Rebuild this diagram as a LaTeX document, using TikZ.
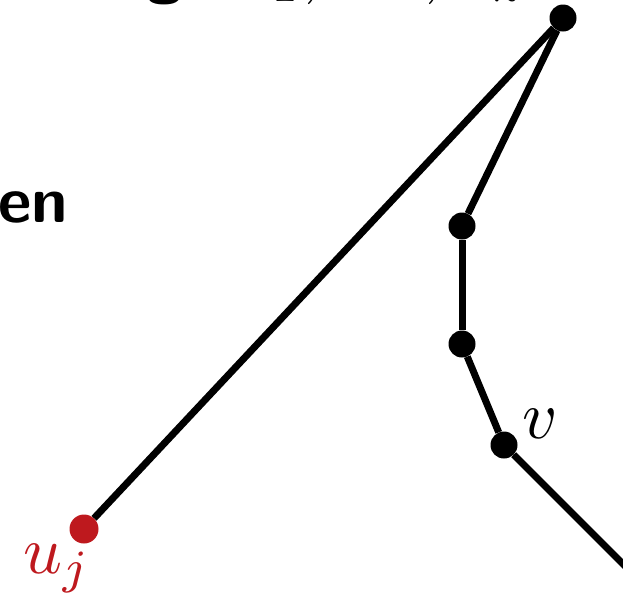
\documentclass[tikz,border=0pt]{standalone}
\usepackage{graphicx}
\usepackage{xcolor}
\definecolor{dotred}{RGB}{190,25,30}
\newcommand{\hugemath}[1]{\scalebox{6.8}{$#1$}}
\tikzset{
  vtx/.style={circle,fill=black,inner sep=0pt,minimum size=27pt},
  redvtx/.style={circle,fill=dotred,inner sep=0pt,minimum size=29pt},
  edge/.style={line width=7pt},
  lbl/.style={inner sep=0pt},
  bigsf/.style={inner sep=0pt,font=\fontsize{65}{78}\selectfont\sffamily\bfseries},
}
\begin{document}
\begin{tikzpicture}[x=1pt,y=-1pt]
\useasboundingbox (0,0) rectangle (623,595);
\clip (0,0) rectangle (623,595);
% cut-off text
\node[bigsf,anchor=base west] (en) at (-2,222) {en};
\node[bigsf,anchor=base west] (g) at (146,-9) {g};
\node[lbl,anchor=base west] (ulist) at (232,-9) {\hugemath{u_1, \ldots, u_k}};
% vertices
\node[vtx] (top) at (563,18) {};
\node[vtx] (a) at (462,226) {};
\node[vtx] (b) at (462,344) {};
\node[vtx] (v) at (504,445) {};
\node[redvtx] (uj) at (84,529) {};
\coordinate (out) at (670,611);
% edges
\draw[edge] (top) -- (uj);
\draw[edge] (top) -- (a);
\draw[edge] (a) -- (b);
\draw[edge] (b) -- (v);
\draw[edge] (v) -- (out);
% labels
\node[lbl,anchor=base west] (vl) at (522,438) {\hugemath{v}};
\node[lbl,anchor=base west,text=dotred] (ujl) at (23,573) {\hugemath{u_j}};
\end{tikzpicture}
\end{document}
